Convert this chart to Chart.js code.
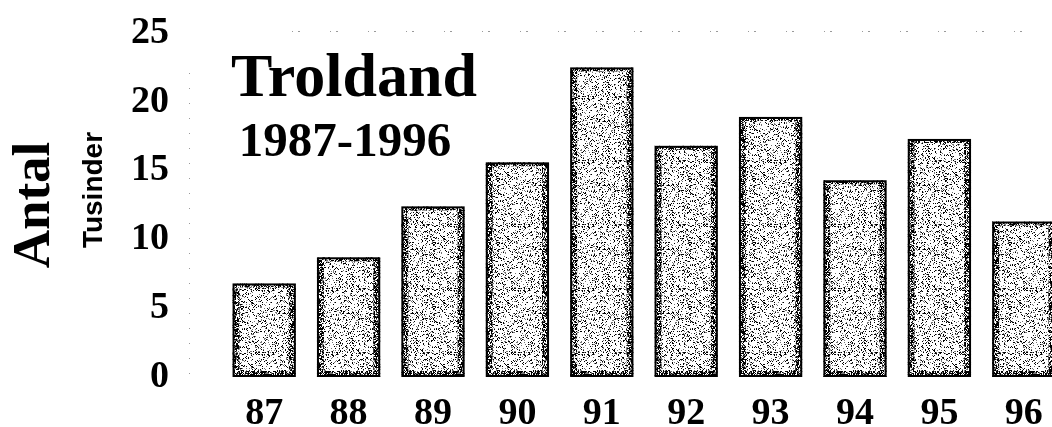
<!DOCTYPE html>
<html>
<head>
<meta charset="utf-8">
<script src="https://cdn.jsdelivr.net/npm/chart.js@4"></script>
<style>
html,body{margin:0;padding:0;background:#fff;overflow:hidden;width:1052px;height:427px;}
#wrap{position:relative;width:1052px;height:427px;overflow:hidden;}
canvas{display:block;}
</style>
</head>
<body>
<div id="wrap"><canvas id="c" width="1066" height="427"></canvas></div>
<script>
const categories = ['87','88','89','90','91','92','93','94','95','96'];
const antal = [6.8, 8.7, 12.4, 15.6, 22.5, 16.8, 18.9, 14.3, 17.3, 11.3];
const yTicks = [0, 5, 10, 15, 20, 25];
const titleText = 'Troldand';
const subtitleText = '1987-1996';
const yTitle = 'Antal';
const yUnit = 'Tusinder';

function hash(x, y, seed){
  let h = (x*374761393 + y*668265263 + seed*2147483647) >>> 0;
  h = ((h ^ (h >>> 13)) * 1274126177) >>> 0;
  return (h ^ (h >>> 16)) & 1023;
}
function stipple(blackLimit, greyLimit, seed){
  const s = 64;
  const c = document.createElement('canvas');
  c.width = s; c.height = s;
  const g = c.getContext('2d');
  g.fillStyle = '#ffffff'; g.fillRect(0,0,s,s);
  for (let y=0;y<s;y++){
    for (let x=0;x<s;x++){
      const h = hash(x, y, seed);
      if (h < blackLimit) { g.fillStyle = '#000'; g.fillRect(x,y,1,1); }
      else if (h < greyLimit) { g.fillStyle = '#777'; g.fillRect(x,y,1,1); }
    }
  }
  return g.createPattern(c, 'repeat');
}
const innerPattern = stipple(130, 230, 1);
const edgePattern = stipple(520, 700, 7);

const edgePlugin = {
  id: 'edges',
  afterDatasetsDraw(chart){
    const ctx = chart.ctx;
    const meta = chart.getDatasetMeta(0);
    ctx.save();
    ctx.fillStyle = edgePattern;
    meta.data.forEach(bar => {
      const p = bar.getProps(['x','y','base','width'], true);
      const l = p.x - p.width/2, r = p.x + p.width/2;
      const t = p.y, b = p.base;
      ctx.fillRect(l + 1, t + 1, 6, b - t - 2);
      ctx.fillRect(r - 7, t + 1, 6, b - t - 2);
      ctx.fillRect(l + 1, b - 6, r - l - 2, 5);
      ctx.fillRect(l + 1, t + 1, r - l - 2, 3);
    });
    ctx.strokeStyle = '#000';
    ctx.lineWidth = 2;
    meta.data.forEach(bar => {
      const p = bar.getProps(['x','y','base','width'], true);
      ctx.strokeRect(p.x - p.width/2 + 1, p.y + 1, p.width - 2, p.base - p.y - 2);
    });
    ctx.restore();
  }
};

const textPlugin = {
  id: 'texts',
  afterDraw(chart){
    const ctx = chart.ctx;
    const area = chart.chartArea;
    ctx.save();
    // faint dotted frame remnants (axis and top line)
    ctx.strokeStyle = '#9a9a9a';
    ctx.lineWidth = 1;
    ctx.setLineDash([1, 14]);
    ctx.beginPath();
    ctx.moveTo(area.left - 32.5, area.top + 40);
    ctx.lineTo(area.left - 32.5, area.bottom);
    ctx.stroke();
    ctx.setLineDash([1, 5, 2, 30]);
    ctx.beginPath();
    ctx.moveTo(area.left + 70, area.top - 1.5);
    ctx.lineTo(area.right, area.top - 1.5);
    ctx.stroke();
    ctx.setLineDash([]);

    ctx.fillStyle = '#000';
    ctx.textAlign = 'center';
    ctx.textBaseline = 'alphabetic';
    ctx.font = 'bold 62px "Liberation Serif", "Times New Roman", serif';
    ctx.fillText(titleText, 354, 96);
    ctx.font = 'bold 49px "Liberation Serif", "Times New Roman", serif';
    ctx.fillText(subtitleText, 345, 156);
    ctx.save();
    ctx.translate(49, 205);
    ctx.rotate(-Math.PI/2);
    ctx.font = 'bold 53px "Liberation Serif", "Times New Roman", serif';
    ctx.fillText(yTitle, 0, 0);
    ctx.restore();
    ctx.save();
    ctx.translate(102, 190);
    ctx.rotate(-Math.PI/2);
    ctx.font = 'bold 28px "Liberation Sans", Arial, sans-serif';
    ctx.fillText(yUnit, 0, 0);
    ctx.restore();
    ctx.restore();
  }
};

const ctx = document.getElementById('c').getContext('2d');
new Chart(ctx, {
  type: 'bar',
  data: {
    labels: categories,
    datasets: [{
      data: antal,
      backgroundColor: innerPattern,
      borderColor: '#000',
      borderWidth: 0,
      barPercentage: 0.75,
      categoryPercentage: 1.0
    }]
  },
  options: {
    responsive: false,
    animation: false,
    events: [],
    layout: { autoPadding: false, padding: { top: 33, left: 0, right: 0, bottom: 0 } },
    plugins: { legend: { display: false }, tooltip: { enabled: false }, title: { display: false } },
    scales: {
      x: {
        grid: { display: false, drawTicks: false },
        border: { display: false },
        ticks: {
          color: '#000',
          padding: 14,
          font: { family: '"Liberation Serif", "Times New Roman", serif', weight: 'bold', size: 38 }
        },
        afterFit(scale){ scale.height = 50; scale.paddingLeft = 0; scale.paddingRight = 0; scale.paddingTop = 0; scale.paddingBottom = 0; }
      },
      y: {
        min: 0, max: 25,
        afterBuildTicks(scale){ scale.ticks = yTicks.map(v => ({ value: v })); },
        grid: { display: false, drawTicks: false },
        border: { display: false },
        ticks: {
          color: '#000',
          padding: 53,
          font: { family: '"Liberation Serif", "Times New Roman", serif', weight: 'bold', size: 38 }
        },
        afterFit(scale){ scale.width = 222; scale.paddingTop = 0; scale.paddingBottom = 0; scale.paddingLeft = 0; scale.paddingRight = 0; }
      }
    }
  },
  plugins: [edgePlugin, textPlugin]
});
</script>
</body>
</html>
